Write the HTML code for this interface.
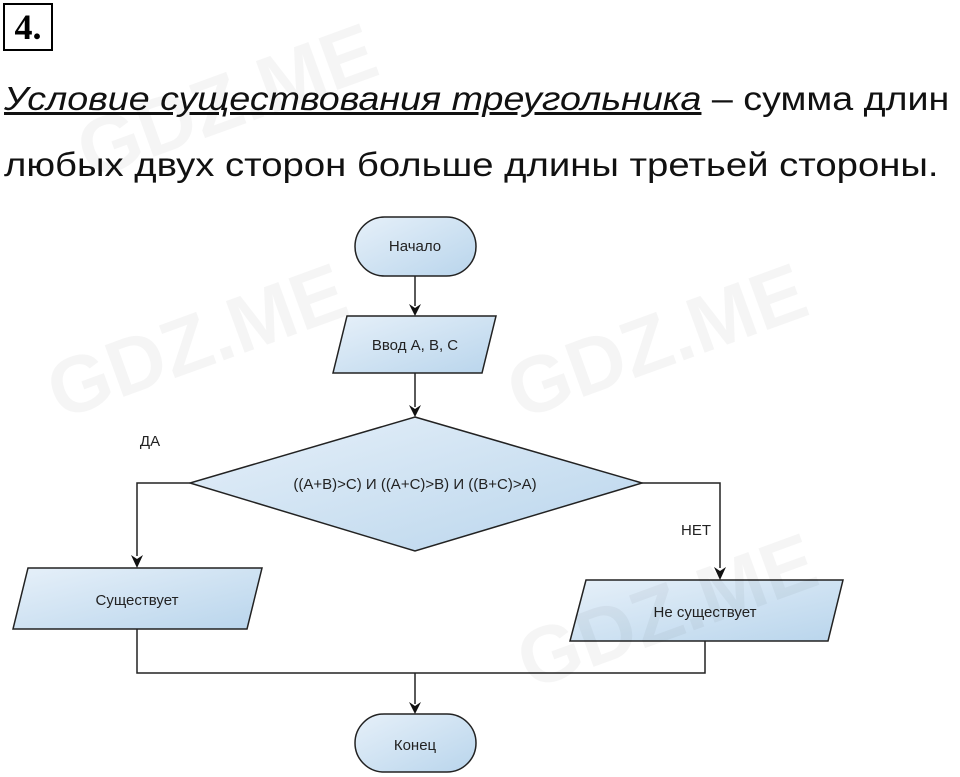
<!DOCTYPE html>
<html><head><meta charset="utf-8"><style>
body{margin:0;width:960px;height:777px;background:#fff;overflow:hidden;position:relative;font-family:"Liberation Sans",sans-serif}
.t{position:absolute;left:4px;font-size:33px;color:#111;white-space:nowrap;transform-origin:0 0}
</style></head><body>
<div style="position:absolute;left:3px;top:3px;width:46px;height:44px;border:2.5px solid #000;font:bold 36px 'Liberation Serif',serif;line-height:44px;text-align:center">4.</div>
<div class="t" style="top:80px;transform:scaleX(1.14)"><span style="font-style:italic;text-decoration:underline">Условие существования треугольника</span> – сумма длин</div>
<div class="t" style="top:146px;transform:scaleX(1.16)">любых двух сторон больше длины третьей стороны.</div>
<svg width="960" height="777" style="position:absolute;left:0;top:0">
<defs><linearGradient id="g" x1="0" y1="0" x2="1" y2="1"><stop offset="0" stop-color="#e6f0f9"/><stop offset="1" stop-color="#b9d5ec"/></linearGradient></defs>
<g stroke="#222" stroke-width="1.5" fill="url(#g)">
<rect x="355" y="217" width="121" height="59" rx="29.5"/>
<polygon points="347,316 496,316 482,373 333,373"/>
<polygon points="415,417 642,483 415,551 190,483"/>
<polygon points="28,568 262,568 247,629 13,629"/>
<polygon points="586,580 843,580 828,641 570,641"/>
<rect x="355" y="714" width="121" height="58" rx="29"/>
</g>
<g stroke="#222" stroke-width="1.5" fill="none">
<path d="M415,276V306"/><path d="M415,373V407"/>
<path d="M190,483H137V556"/><path d="M642,483H720V568"/>
<path d="M137,629V673H705V641"/><path d="M415,673V704"/>
</g>
<g fill="#111">
<path d="M409,304L415,316L421,304L415,308Z"/>
<path d="M409,405L415,417L421,405L415,409Z"/>
<path d="M131,555L137,568L143,555L137,559Z"/>
<path d="M714,567L720,580L726,567L720,571Z"/>
<path d="M409,702L415,714L421,702L415,706Z"/>
</g>
<g font-family="Liberation Sans,sans-serif" font-size="15" fill="#222" text-anchor="middle">
<text x="415" y="251">Начало</text>
<text x="415" y="350">Ввод А, В, С</text>
<text x="415" y="489">((A+B)&gt;C) И ((A+C)&gt;B) И ((B+C)&gt;A)</text>
<text x="137" y="605">Существует</text>
<text x="705" y="617">Не существует</text>
<text x="415" y="750">Конец</text>
<text x="150" y="446">ДА</text>
<text x="696" y="535">НЕТ</text>
</g>
<g font-family="Liberation Sans,sans-serif" font-size="80" fill="rgba(0,0,0,0.04)" font-weight="bold">
<text transform="translate(60,420) rotate(-20)">GDZ.ME</text>
<text transform="translate(520,420) rotate(-20)">GDZ.ME</text>
<text transform="translate(90,180) rotate(-20)">GDZ.ME</text>
<text transform="translate(530,690) rotate(-20)">GDZ.ME</text>
</g>
</svg>
</body></html>
